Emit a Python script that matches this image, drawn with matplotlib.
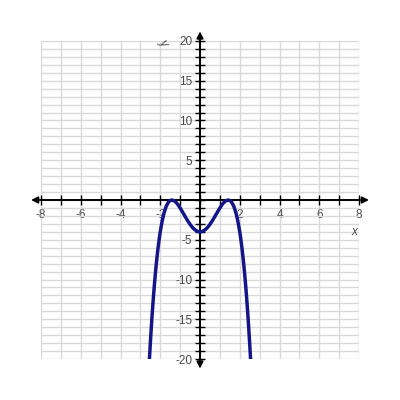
import matplotlib
matplotlib.use("Agg")
import matplotlib.pyplot as plt
from matplotlib.ticker import MultipleLocator, FuncFormatter

plt.rcParams['font.family'] = ['Liberation Sans', 'DejaVu Sans']

# Curve points
x_vals = [-2.55, -2.5, -2.45, -2.4, -2.35, -2.3, -2.25, -2.2, -2.15, -2.1, -2.05, -2.0,
          -1.9, -1.8, -1.7, -1.6, -1.5, -1.414, -1.3, -1.2, -1.1, -1.0, -0.9, -0.8,
          -0.7, -0.6, -0.5, -0.4, -0.3, -0.2, -0.1, 0.0,
          0.1, 0.2, 0.3, 0.4, 0.5, 0.6, 0.7, 0.8, 0.9, 1.0, 1.1, 1.2, 1.3, 1.414,
          1.5, 1.6, 1.7, 1.8, 1.9, 2.0, 2.05, 2.1, 2.15, 2.2, 2.25, 2.3, 2.35, 2.4,
          2.45, 2.5, 2.55]
y_vals = [-20.27, -18.06, -16.04, -14.14, -12.41, -10.82, -9.38, -8.07, -6.88, -5.81, -4.86, -4.0,
          -2.59, -1.54, -0.79, -0.31, -0.06, 0.0, -0.10, -0.31, -0.62, -1.0, -1.42, -1.85,
          -2.28, -2.69, -3.06, -3.39, -3.65, -3.84, -3.96, -4.0,
          -3.96, -3.84, -3.65, -3.39, -3.06, -2.69, -2.28, -1.85, -1.42, -1.0, -0.62, -0.31, -0.10, 0.0,
          -0.06, -0.31, -0.79, -1.54, -2.59, -4.0, -4.86, -5.81, -6.88, -8.07, -9.38, -10.82, -12.41, -14.14,
          -16.04, -18.06, -20.27]

x_range = (-8, 8)
y_range = (-20, 20)

fig = plt.figure(figsize=(4, 4), dpi=100)
ax = fig.add_axes([41/400, 41/400, 318/400, 318/400])
ax.set_xlim(*x_range)
ax.set_ylim(*y_range)

ax.xaxis.set_major_locator(MultipleLocator(2))
ax.xaxis.set_minor_locator(MultipleLocator(1))
ax.yaxis.set_major_locator(MultipleLocator(5))
ax.yaxis.set_minor_locator(MultipleLocator(1))
ax.grid(which='both', color='#d9d9d9', linewidth=1.0, zorder=0)
ax.set_axisbelow(True)

fmt = FuncFormatter(lambda v, p: '' if abs(v) < 1e-9 else f'{v:g}')
ax.xaxis.set_major_formatter(fmt)
ax.yaxis.set_major_formatter(fmt)

for s in ['top', 'right']:
    ax.spines[s].set_visible(False)
ax.spines['left'].set_position('zero')
ax.spines['bottom'].set_position('zero')
ax.spines['left'].set_linewidth(1.2)
ax.spines['bottom'].set_linewidth(1.2)

ax.tick_params(which='both', direction='inout', length=7, width=1.0, color='black',
               labelsize=8.5, labelcolor='#4a4a4a')
ax.tick_params(axis='x', pad=3)
ax.tick_params(axis='y', pad=2)

# axis arrows
ax.annotate('', xy=(8.5, 0), xytext=(-8.5, 0),
            arrowprops=dict(arrowstyle='<|-|>', color='black', lw=1.2,
                            mutation_scale=10, shrinkA=0, shrinkB=0),
            annotation_clip=False)
ax.annotate('', xy=(0, 21.2), xytext=(0, -21.2),
            arrowprops=dict(arrowstyle='<|-|>', color='black', lw=1.2,
                            mutation_scale=10, shrinkA=0, shrinkB=0),
            annotation_clip=False)

ax.plot(x_vals, y_vals, color='#15158a', linewidth=2.5, zorder=5, clip_on=True)

ax.text(7.75, -4.0, 'x', fontsize=8.5, style='italic', color='#4a4a4a', ha='center', va='center')
ax.text(-1.85, 19.8, 'y', fontsize=8.5, style='italic', color='#4a4a4a', ha='center', va='center',
        rotation=-60)

fig.savefig('out.png', dpi=100)
